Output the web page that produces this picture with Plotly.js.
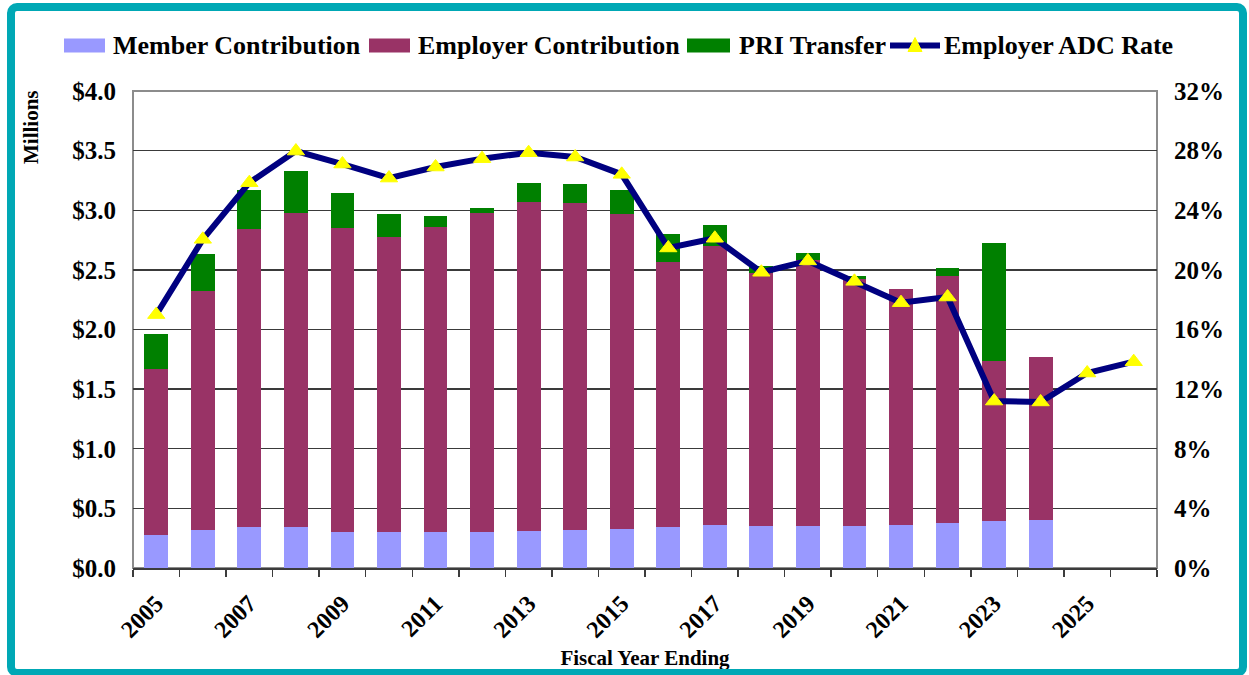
<!DOCTYPE html>
<html>
<head>
<meta charset="utf-8">
<script src="https://cdn.plot.ly/plotly-3.0.1.min.js"></script>
<style>
  html, body { margin: 0; padding: 0; background: #ffffff; }
  #chart { width: 1249px; height: 675px; }
  #frame { position: absolute; left: 7px; top: 3px; width: 1240px; height: 674px;
           border: 8px solid #00A8B5; border-radius: 10px; box-sizing: border-box; pointer-events: none; }
</style>
</head>
<body>
<div id="chart"></div>
<div id="frame"></div>
<script>
// ---- data ----
const years = [2005,2006,2007,2008,2009,2010,2011,2012,2013,2014,2015,2016,2017,2018,2019,2020,2021,2022,2023,2024,2025,2026];
const barYears = [2005,2006,2007,2008,2009,2010,2011,2012,2013,2014,2015,2016,2017,2018,2019,2020,2021,2022,2023,2024];
const memberContribution   = [0.28,0.32,0.34,0.34,0.305,0.305,0.30,0.305,0.31,0.32,0.33,0.34,0.36,0.355,0.355,0.35,0.36,0.375,0.395,0.40];
const employerContribution = [1.39,2.00,2.50,2.64,2.55,2.47,2.56,2.67,2.76,2.74,2.64,2.23,2.34,2.12,2.23,2.07,1.98,2.07,1.34,1.37];
const priTransfer          = [0.29,0.31,0.33,0.35,0.29,0.19,0.095,0.045,0.16,0.16,0.20,0.235,0.18,0.06,0.055,0.03,0,0.07,0.99,0];
const employerAdcRate      = [0.170,0.2205,0.2585,0.2797,0.271,0.2616,0.269,0.2746,0.2786,0.2757,0.2641,0.2147,0.2212,0.1984,0.206,0.1923,0.178,0.1818,0.112,0.1114,0.1308,0.1384];
const xTickLabels = ['2005','2007','2009','2011','2013','2015','2017','2019','2021','2023','2025'];
const seriesNames = ['Member Contribution','Employer Contribution','PRI Transfer','Employer ADC Rate'];
const leftTicks = [0,0.5,1,1.5,2,2.5,3,3.5,4];
const rightTicks = [0,0.04,0.08,0.12,0.16,0.20,0.24,0.28,0.32];

// ---- styles ----
const FONT = 'Liberation Serif, Times New Roman, serif';
const colMember = '#9999FF', colEmployer = '#993366', colPri = '#008000', colLine = '#000080', colTri = '#FFFF00';

const W = 1249, H = 675;
const M = {l: 133, r: 92, t: 91, b: 107};
const PW = W - M.l - M.r, PH = H - M.t - M.b;
const px = x => (x - M.l) / PW;
const py = y => (H - M.b - y) / PH;

const barCommon = {type: 'bar', x: barYears, showlegend: false, hoverinfo: 'y'};
const traces = [
  Object.assign({}, barCommon, {name: seriesNames[0], y: memberContribution, marker: {color: colMember}}),
  Object.assign({}, barCommon, {name: seriesNames[1], y: employerContribution, marker: {color: colEmployer}}),
  Object.assign({}, barCommon, {name: seriesNames[2], y: priTransfer, marker: {color: colPri}}),
  {type: 'scatter', mode: 'lines+markers', name: seriesNames[3], x: years, y: employerAdcRate, yaxis: 'y2',
   showlegend: false, line: {color: colLine, width: 6},
   marker: {symbol: 'triangle-up', size: 15, color: colTri, line: {color: colTri, width: 1}}}
];

// ---- custom legend (shapes + text) ----
const legendItems = [
  {sym: [64, 105], text: 111, color: colMember, kind: 'box'},
  {sym: [369, 410], text: 416, color: colEmployer, kind: 'box'},
  {sym: [687, 730], text: 737, color: colPri, kind: 'box'},
  {sym: [890, 940], text: 942, color: colLine, kind: 'line'}
];
const legY = 45.5;
const shapes = [
  {type: 'rect', xref: 'paper', yref: 'paper', x0: 0, x1: 1, y0: 0, y1: 1, layer: 'below',
   line: {color: '#8c8c8c', width: 2}, fillcolor: 'rgba(0,0,0,0)'}
];
const annotations = [];
legendItems.forEach((it, i) => {
  if (it.kind === 'box') {
    shapes.push({type: 'rect', xref: 'paper', yref: 'paper', x0: px(it.sym[0]), x1: px(it.sym[1]),
      y0: py(legY + 7), y1: py(legY - 7), fillcolor: it.color, line: {width: 0}});
  } else {
    shapes.push({type: 'line', xref: 'paper', yref: 'paper', x0: px(it.sym[0]), x1: px(it.sym[1]),
      y0: py(legY), y1: py(legY), line: {color: it.color, width: 6}});
    const cx = (it.sym[0] + it.sym[1]) / 2;
    const path = 'M ' + px(cx - 7) + ' ' + py(legY + 6) + ' L ' + px(cx + 7) + ' ' + py(legY + 6) +
                 ' L ' + px(cx) + ' ' + py(legY - 8) + ' Z';
    shapes.push({type: 'path', xref: 'paper', yref: 'paper', path: path, fillcolor: colTri, line: {color: colTri, width: 1}});
  }
  annotations.push({xref: 'paper', yref: 'paper', x: px(it.text), y: py(legY), xanchor: 'left', yanchor: 'middle',
    showarrow: false, text: seriesNames[i], font: {family: FONT, size: 26, color: '#000', weight: 700}});
});
annotations.push({xref: 'paper', yref: 'paper', x: px(31), y: py(127), xanchor: 'center', yanchor: 'middle',
  showarrow: false, textangle: -90, text: 'Millions', font: {family: FONT, size: 21, color: '#000', weight: 700}});

const minorTickVals = [];
for (let v = years[0] - 0.5; v <= years[years.length - 1] + 0.5; v += 1) minorTickVals.push(v);

const layout = {
  width: W, height: H,
  margin: M,
  paper_bgcolor: '#ffffff', plot_bgcolor: '#ffffff',
  barmode: 'stack', bargap: 0.49,
  showlegend: false,
  font: {family: FONT, color: '#000', weight: 700},
  xaxis: {
    range: [years[0] - 0.5, years[years.length - 1] + 0.5],
    tickmode: 'array', tickvals: xTickLabels.map(Number), ticktext: xTickLabels,
    tickangle: -45, ticks: '', ticklabelstandoff: 10, showgrid: false, zeroline: false,
    tickfont: {family: FONT, size: 24, weight: 700},
    showline: true, linecolor: '#3c3c3c', linewidth: 2,
    minor: {tickmode: 'array', tickvals: minorTickVals, ticks: 'outside', ticklen: 7, tickcolor: '#3c3c3c', tickwidth: 1.5, showgrid: false},
    title: {text: 'Fiscal Year Ending', font: {family: FONT, size: 21, weight: 700}, standoff: 9}
  },
  yaxis: {
    range: [0, 4], tickmode: 'array', tickvals: leftTicks,
    ticktext: leftTicks.map(v => '$' + v.toFixed(1)),
    ticks: '', ticklabelstandoff: 16,
    tickfont: {family: FONT, size: 25, weight: 700},
    showgrid: true, gridcolor: '#3a3a3a', gridwidth: 1.4, zeroline: false, showline: false
  },
  yaxis2: {
    overlaying: 'y', side: 'right', range: [0, 0.32], tickmode: 'array', tickvals: rightTicks,
    ticktext: rightTicks.map(v => Math.round(v * 100) + '%'),
    ticks: '', ticklabelstandoff: 16,
    tickfont: {family: FONT, size: 25, weight: 700},
    showgrid: false, zeroline: false, showline: false
  },
  shapes: shapes,
  annotations: annotations
};

Plotly.newPlot('chart', traces, layout, {displayModeBar: false, staticPlot: true});
</script>
</body>
</html>
